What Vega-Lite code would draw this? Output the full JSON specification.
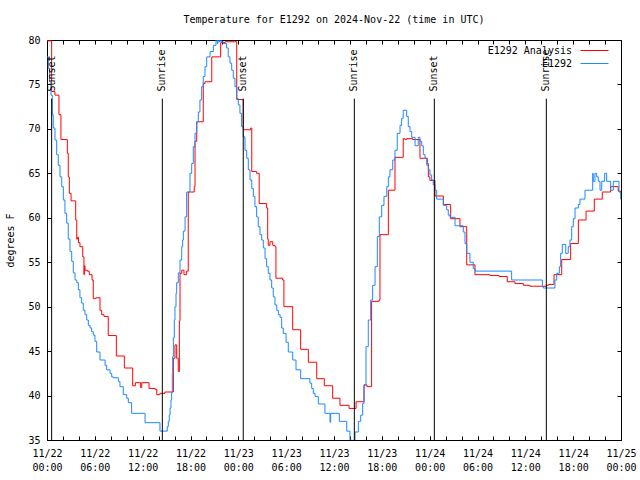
{
  "$schema": "https://vega.github.io/schema/vega-lite/v6.json",
  "width": 574,
  "height": 400,
  "autosize": {"type": "none"},
  "padding": {"left": 47, "top": 40, "right": 19, "bottom": 40},
  "background": "white",
  "title": {"text": "Temperature for E1292 on 2024-Nov-22 (time in UTC)", "font": "DejaVu Sans Mono", "fontSize": 10, "fontWeight": "normal", "color": "black", "offset": 10, "anchor": "middle"},
  "config": {
    "view": {"stroke": "black", "strokeWidth": 1},
    "font": "DejaVu Sans Mono",
    "axis": {"domain": false, "grid": false, "tickColor": "black", "tickSize": -4, "labelColor": "black", "labelFont": "DejaVu Sans Mono", "labelFontSize": 10, "titleFont": "DejaVu Sans Mono", "titleFontSize": 10, "titleFontWeight": "normal", "titleColor": "black"}
  },
  "datasets": {
    "obs": [
      {"t": "2024-11-22T00:00:00Z", "v": 78.1}, {"t": "2024-11-22T00:10:00Z", "v": 76.8}, {"t": "2024-11-22T00:20:00Z", "v": 75.3}, {"t": "2024-11-22T00:30:00Z", "v": 73.8}, {"t": "2024-11-22T00:40:00Z", "v": 71.6}, {"t": "2024-11-22T00:47:00Z", "v": 70.1}, {"t": "2024-11-22T01:00:00Z", "v": 68.75}, {"t": "2024-11-22T01:13:00Z", "v": 67.1}, {"t": "2024-11-22T01:25:00Z", "v": 65.9}, {"t": "2024-11-22T01:38:00Z", "v": 64.6}, {"t": "2024-11-22T01:51:00Z", "v": 63.5}, {"t": "2024-11-22T02:03:00Z", "v": 62.0}, {"t": "2024-11-22T02:15:00Z", "v": 60.5}, {"t": "2024-11-22T02:28:00Z", "v": 59.4}, {"t": "2024-11-22T02:40:00Z", "v": 57.6}, {"t": "2024-11-22T02:53:00Z", "v": 56.2}, {"t": "2024-11-22T03:06:00Z", "v": 55.1}, {"t": "2024-11-22T03:18:00Z", "v": 53.8}, {"t": "2024-11-22T03:31:00Z", "v": 53.0}, {"t": "2024-11-22T03:44:00Z", "v": 52.7}, {"t": "2024-11-22T03:56:00Z", "v": 51.9}, {"t": "2024-11-22T04:08:00Z", "v": 51.0}, {"t": "2024-11-22T04:21:00Z", "v": 50.4}, {"t": "2024-11-22T04:33:00Z", "v": 49.6}, {"t": "2024-11-22T04:46:00Z", "v": 49.1}, {"t": "2024-11-22T04:59:00Z", "v": 48.5}, {"t": "2024-11-22T05:11:00Z", "v": 47.9}, {"t": "2024-11-22T05:24:00Z", "v": 47.6}, {"t": "2024-11-22T05:36:00Z", "v": 47.2}, {"t": "2024-11-22T05:48:00Z", "v": 46.8}, {"t": "2024-11-22T06:01:00Z", "v": 46.1}, {"t": "2024-11-22T06:14:00Z", "v": 44.9}, {"t": "2024-11-22T06:39:00Z", "v": 44.0}, {"t": "2024-11-22T07:17:00Z", "v": 43.4}, {"t": "2024-11-22T07:29:00Z", "v": 42.9}, {"t": "2024-11-22T07:54:00Z", "v": 42.5}, {"t": "2024-11-22T08:07:00Z", "v": 42.1}, {"t": "2024-11-22T08:19:00Z", "v": 42.0}, {"t": "2024-11-22T08:57:00Z", "v": 41.6}, {"t": "2024-11-22T09:09:00Z", "v": 41.0}, {"t": "2024-11-22T09:34:00Z", "v": 40.1}, {"t": "2024-11-22T10:00:00Z", "v": 39.7}, {"t": "2024-11-22T10:12:00Z", "v": 39.2}, {"t": "2024-11-22T10:37:00Z", "v": 38.0}, {"t": "2024-11-22T12:18:00Z", "v": 36.95}, {"t": "2024-11-22T14:10:00Z", "v": 36.0}, {"t": "2024-11-22T15:05:00Z", "v": 36.5}, {"t": "2024-11-22T15:13:00Z", "v": 37.1}, {"t": "2024-11-22T15:20:00Z", "v": 37.8}, {"t": "2024-11-22T15:26:00Z", "v": 38.6}, {"t": "2024-11-22T15:33:00Z", "v": 39.5}, {"t": "2024-11-22T15:38:00Z", "v": 40.4}, {"t": "2024-11-22T15:43:00Z", "v": 42.5}, {"t": "2024-11-22T15:46:00Z", "v": 44.4}, {"t": "2024-11-22T15:51:00Z", "v": 46.5}, {"t": "2024-11-22T15:58:00Z", "v": 48.5}, {"t": "2024-11-22T16:03:00Z", "v": 50.0}, {"t": "2024-11-22T16:11:00Z", "v": 51.5}, {"t": "2024-11-22T16:16:00Z", "v": 52.7}, {"t": "2024-11-22T16:28:00Z", "v": 53.8}, {"t": "2024-11-22T16:41:00Z", "v": 55.25}, {"t": "2024-11-22T16:54:00Z", "v": 56.75}, {"t": "2024-11-22T17:01:00Z", "v": 57.5}, {"t": "2024-11-22T17:06:00Z", "v": 58.5}, {"t": "2024-11-22T17:19:00Z", "v": 60.1}, {"t": "2024-11-22T17:31:00Z", "v": 62.9}, {"t": "2024-11-22T17:56:00Z", "v": 65.0}, {"t": "2024-11-22T18:09:00Z", "v": 66.1}, {"t": "2024-11-22T18:21:00Z", "v": 68.0}, {"t": "2024-11-22T18:34:00Z", "v": 69.5}, {"t": "2024-11-22T18:47:00Z", "v": 70.8}, {"t": "2024-11-22T18:59:00Z", "v": 71.9}, {"t": "2024-11-22T19:11:00Z", "v": 73.25}, {"t": "2024-11-22T19:24:00Z", "v": 74.75}, {"t": "2024-11-22T19:36:00Z", "v": 75.9}, {"t": "2024-11-22T19:49:00Z", "v": 77.0}, {"t": "2024-11-22T20:02:00Z", "v": 78.1}, {"t": "2024-11-22T20:27:00Z", "v": 78.7}, {"t": "2024-11-22T20:52:00Z", "v": 79.4}, {"t": "2024-11-22T21:12:00Z", "v": 80.4}, {"t": "2024-11-22T21:22:00Z", "v": 79.6}, {"t": "2024-11-22T21:27:00Z", "v": 80.4}, {"t": "2024-11-22T21:34:00Z", "v": 79.8}, {"t": "2024-11-22T21:42:00Z", "v": 80.2}, {"t": "2024-11-22T21:50:00Z", "v": 79.8}, {"t": "2024-11-22T22:07:00Z", "v": 79.6}, {"t": "2024-11-22T22:32:00Z", "v": 79.1}, {"t": "2024-11-22T22:44:00Z", "v": 78.1}, {"t": "2024-11-22T22:57:00Z", "v": 77.4}, {"t": "2024-11-22T23:10:00Z", "v": 76.6}, {"t": "2024-11-22T23:22:00Z", "v": 75.7}, {"t": "2024-11-22T23:35:00Z", "v": 74.75}, {"t": "2024-11-22T23:48:00Z", "v": 73.4},
      {"t": "2024-11-23T00:00:00Z", "v": 72.7}, {"t": "2024-11-23T00:12:00Z", "v": 71.75}, {"t": "2024-11-23T00:25:00Z", "v": 70.25}, {"t": "2024-11-23T00:37:00Z", "v": 69.1}, {"t": "2024-11-23T00:50:00Z", "v": 67.6}, {"t": "2024-11-23T01:03:00Z", "v": 66.7}, {"t": "2024-11-23T01:15:00Z", "v": 65.4}, {"t": "2024-11-23T01:28:00Z", "v": 64.25}, {"t": "2024-11-23T01:41:00Z", "v": 63.3}, {"t": "2024-11-23T01:53:00Z", "v": 62.4}, {"t": "2024-11-23T02:05:00Z", "v": 61.25}, {"t": "2024-11-23T02:18:00Z", "v": 60.1}, {"t": "2024-11-23T02:30:00Z", "v": 59.0}, {"t": "2024-11-23T02:43:00Z", "v": 58.1}, {"t": "2024-11-23T02:56:00Z", "v": 57.5}, {"t": "2024-11-23T03:08:00Z", "v": 56.6}, {"t": "2024-11-23T03:21:00Z", "v": 55.4}, {"t": "2024-11-23T03:33:00Z", "v": 54.5}, {"t": "2024-11-23T03:45:00Z", "v": 53.75}, {"t": "2024-11-23T03:58:00Z", "v": 53.0}, {"t": "2024-11-23T04:11:00Z", "v": 52.1}, {"t": "2024-11-23T04:23:00Z", "v": 51.1}, {"t": "2024-11-23T04:36:00Z", "v": 50.2}, {"t": "2024-11-23T04:49:00Z", "v": 49.6}, {"t": "2024-11-23T05:01:00Z", "v": 49.1}, {"t": "2024-11-23T05:14:00Z", "v": 48.8}, {"t": "2024-11-23T05:26:00Z", "v": 47.6}, {"t": "2024-11-23T05:38:00Z", "v": 47.0}, {"t": "2024-11-23T05:59:00Z", "v": 46.0}, {"t": "2024-11-23T06:16:00Z", "v": 44.9}, {"t": "2024-11-23T06:49:00Z", "v": 44.0}, {"t": "2024-11-23T07:14:00Z", "v": 42.9}, {"t": "2024-11-23T07:49:00Z", "v": 41.9}, {"t": "2024-11-23T08:59:00Z", "v": 41.4}, {"t": "2024-11-23T09:12:00Z", "v": 40.8}, {"t": "2024-11-23T09:24:00Z", "v": 40.25}, {"t": "2024-11-23T09:37:00Z", "v": 39.9}, {"t": "2024-11-23T10:02:00Z", "v": 39.05}, {"t": "2024-11-23T10:52:00Z", "v": 38.0}, {"t": "2024-11-23T11:30:00Z", "v": 37.0}, {"t": "2024-11-23T11:35:00Z", "v": 38.0}, {"t": "2024-11-23T12:40:00Z", "v": 37.1}, {"t": "2024-11-23T13:36:00Z", "v": 36.0}, {"t": "2024-11-23T14:00:00Z", "v": 35.0}, {"t": "2024-11-23T14:13:00Z", "v": 34.5}, {"t": "2024-11-23T14:27:00Z", "v": 35.0}, {"t": "2024-11-23T14:38:00Z", "v": 35.9}, {"t": "2024-11-23T15:03:00Z", "v": 37.1}, {"t": "2024-11-23T15:21:00Z", "v": 37.8}, {"t": "2024-11-23T15:36:00Z", "v": 39.1}, {"t": "2024-11-23T15:46:00Z", "v": 41.2}, {"t": "2024-11-23T16:01:00Z", "v": 45.5}, {"t": "2024-11-23T16:18:00Z", "v": 48.5}, {"t": "2024-11-23T16:36:00Z", "v": 50.75}, {"t": "2024-11-23T16:51:00Z", "v": 52.4}, {"t": "2024-11-23T17:09:00Z", "v": 54.5}, {"t": "2024-11-23T17:26:00Z", "v": 57.9}, {"t": "2024-11-23T17:41:00Z", "v": 60.1}, {"t": "2024-11-23T17:59:00Z", "v": 61.4}, {"t": "2024-11-23T18:16:00Z", "v": 62.4}, {"t": "2024-11-23T18:37:00Z", "v": 63.5}, {"t": "2024-11-23T18:49:00Z", "v": 64.6}, {"t": "2024-11-23T19:01:00Z", "v": 65.4}, {"t": "2024-11-23T19:22:00Z", "v": 66.5}, {"t": "2024-11-23T19:39:00Z", "v": 67.6}, {"t": "2024-11-23T19:56:00Z", "v": 69.5}, {"t": "2024-11-23T20:17:00Z", "v": 70.4}, {"t": "2024-11-23T20:29:00Z", "v": 71.2}, {"t": "2024-11-23T20:41:00Z", "v": 72.1}, {"t": "2024-11-23T21:07:00Z", "v": 71.4}, {"t": "2024-11-23T21:19:00Z", "v": 70.25}, {"t": "2024-11-23T21:32:00Z", "v": 69.7}, {"t": "2024-11-23T21:45:00Z", "v": 69.05}, {"t": "2024-11-23T22:10:00Z", "v": 68.1}, {"t": "2024-11-23T22:34:00Z", "v": 69.05}, {"t": "2024-11-23T22:47:00Z", "v": 68.6}, {"t": "2024-11-23T23:00:00Z", "v": 68.1}, {"t": "2024-11-23T23:12:00Z", "v": 67.1}, {"t": "2024-11-23T23:25:00Z", "v": 66.7}, {"t": "2024-11-23T23:38:00Z", "v": 65.9}, {"t": "2024-11-23T23:50:00Z", "v": 65.4},
      {"t": "2024-11-24T00:02:00Z", "v": 64.8}, {"t": "2024-11-24T00:15:00Z", "v": 64.25}, {"t": "2024-11-24T00:27:00Z", "v": 63.7}, {"t": "2024-11-24T00:40:00Z", "v": 63.1}, {"t": "2024-11-24T00:53:00Z", "v": 62.1}, {"t": "2024-11-24T01:43:00Z", "v": 61.4}, {"t": "2024-11-24T02:08:00Z", "v": 60.9}, {"t": "2024-11-24T02:20:00Z", "v": 60.3}, {"t": "2024-11-24T02:33:00Z", "v": 60.05}, {"t": "2024-11-24T03:11:00Z", "v": 59.1}, {"t": "2024-11-24T04:13:00Z", "v": 58.4}, {"t": "2024-11-24T04:26:00Z", "v": 57.1}, {"t": "2024-11-24T04:39:00Z", "v": 56.0}, {"t": "2024-11-24T05:03:00Z", "v": 55.0}, {"t": "2024-11-24T05:28:00Z", "v": 54.3}, {"t": "2024-11-24T05:41:00Z", "v": 54.0}, {"t": "2024-11-24T10:17:00Z", "v": 53.0}, {"t": "2024-11-24T14:08:00Z", "v": 52.25}, {"t": "2024-11-24T14:15:00Z", "v": 52.1}, {"t": "2024-11-24T15:43:00Z", "v": 53.0}, {"t": "2024-11-24T15:56:00Z", "v": 53.75}, {"t": "2024-11-24T16:16:00Z", "v": 54.5}, {"t": "2024-11-24T16:26:00Z", "v": 56.0}, {"t": "2024-11-24T16:38:00Z", "v": 57.0}, {"t": "2024-11-24T17:04:00Z", "v": 56.0}, {"t": "2024-11-24T17:23:00Z", "v": 56.75}, {"t": "2024-11-24T17:36:00Z", "v": 57.5}, {"t": "2024-11-24T17:49:00Z", "v": 59.0}, {"t": "2024-11-24T18:01:00Z", "v": 59.9}, {"t": "2024-11-24T18:14:00Z", "v": 61.1}, {"t": "2024-11-24T18:39:00Z", "v": 61.5}, {"t": "2024-11-24T18:51:00Z", "v": 62.1}, {"t": "2024-11-24T19:29:00Z", "v": 63.1}, {"t": "2024-11-24T20:27:00Z", "v": 65.0}, {"t": "2024-11-24T20:31:00Z", "v": 64.1}, {"t": "2024-11-24T20:44:00Z", "v": 65.0}, {"t": "2024-11-24T20:57:00Z", "v": 64.6}, {"t": "2024-11-24T21:09:00Z", "v": 64.1}, {"t": "2024-11-24T21:22:00Z", "v": 63.1}, {"t": "2024-11-24T21:35:00Z", "v": 64.1}, {"t": "2024-11-24T21:57:00Z", "v": 65.0}, {"t": "2024-11-24T22:12:00Z", "v": 64.1}, {"t": "2024-11-24T22:42:00Z", "v": 63.1}, {"t": "2024-11-24T23:02:00Z", "v": 64.1}, {"t": "2024-11-24T23:45:00Z", "v": 62.9}, {"t": "2024-11-24T23:58:00Z", "v": 62.1}, {"t": "2024-11-25T00:00:00Z", "v": 62.1}
    ],
    "analysis": [
      {"t": "2024-11-22T00:00:00Z", "v": 79.9}, {"t": "2024-11-22T00:35:00Z", "v": 74.2}, {"t": "2024-11-22T01:00:00Z", "v": 73.8}, {"t": "2024-11-22T01:30:00Z", "v": 71.6}, {"t": "2024-11-22T01:45:00Z", "v": 68.8}, {"t": "2024-11-22T02:33:00Z", "v": 67.25}, {"t": "2024-11-22T02:40:00Z", "v": 64.6}, {"t": "2024-11-22T02:48:00Z", "v": 62.75}, {"t": "2024-11-22T03:01:00Z", "v": 61.9}, {"t": "2024-11-22T03:36:00Z", "v": 59.75}, {"t": "2024-11-22T03:44:00Z", "v": 57.6}, {"t": "2024-11-22T03:50:00Z", "v": 57.8}, {"t": "2024-11-22T03:57:00Z", "v": 57.2}, {"t": "2024-11-22T04:08:00Z", "v": 56.75}, {"t": "2024-11-22T04:29:00Z", "v": 55.6}, {"t": "2024-11-22T04:38:00Z", "v": 53.6}, {"t": "2024-11-22T04:41:00Z", "v": 54.6}, {"t": "2024-11-22T04:46:00Z", "v": 54.1}, {"t": "2024-11-22T05:03:00Z", "v": 54.0}, {"t": "2024-11-22T05:18:00Z", "v": 53.6}, {"t": "2024-11-22T05:39:00Z", "v": 53.0}, {"t": "2024-11-22T05:48:00Z", "v": 50.9}, {"t": "2024-11-22T06:07:00Z", "v": 51.0}, {"t": "2024-11-22T06:39:00Z", "v": 49.6}, {"t": "2024-11-22T06:52:00Z", "v": 49.1}, {"t": "2024-11-22T07:09:00Z", "v": 48.9}, {"t": "2024-11-22T07:41:00Z", "v": 46.75}, {"t": "2024-11-22T08:42:00Z", "v": 44.45}, {"t": "2024-11-22T09:42:00Z", "v": 43.1}, {"t": "2024-11-22T10:45:00Z", "v": 41.1}, {"t": "2024-11-22T11:05:00Z", "v": 41.45}, {"t": "2024-11-22T11:45:00Z", "v": 40.9}, {"t": "2024-11-22T11:53:00Z", "v": 41.45}, {"t": "2024-11-22T12:48:00Z", "v": 40.8}, {"t": "2024-11-22T13:33:00Z", "v": 40.7}, {"t": "2024-11-22T13:46:00Z", "v": 40.1}, {"t": "2024-11-22T14:10:00Z", "v": 40.25}, {"t": "2024-11-22T14:48:00Z", "v": 40.4}, {"t": "2024-11-22T15:51:00Z", "v": 44.2}, {"t": "2024-11-22T16:03:00Z", "v": 45.7}, {"t": "2024-11-22T16:16:00Z", "v": 44.2}, {"t": "2024-11-22T16:28:00Z", "v": 42.7}, {"t": "2024-11-22T16:36:00Z", "v": 48.4}, {"t": "2024-11-22T16:41:00Z", "v": 53.75}, {"t": "2024-11-22T16:54:00Z", "v": 54.1}, {"t": "2024-11-22T17:11:00Z", "v": 53.6}, {"t": "2024-11-22T17:31:00Z", "v": 54.0}, {"t": "2024-11-22T17:43:00Z", "v": 62.9}, {"t": "2024-11-22T18:28:00Z", "v": 63.5}, {"t": "2024-11-22T18:34:00Z", "v": 68.6}, {"t": "2024-11-22T18:47:00Z", "v": 70.8}, {"t": "2024-11-22T19:36:00Z", "v": 75.1}, {"t": "2024-11-22T19:49:00Z", "v": 75.3}, {"t": "2024-11-22T20:40:00Z", "v": 78.1}, {"t": "2024-11-22T21:47:00Z", "v": 79.7}, {"t": "2024-11-22T22:20:00Z", "v": 79.8}, {"t": "2024-11-22T23:48:00Z", "v": 73.3},
      {"t": "2024-11-23T00:37:00Z", "v": 69.9}, {"t": "2024-11-23T01:33:00Z", "v": 70.1}, {"t": "2024-11-23T01:41:00Z", "v": 65.2}, {"t": "2024-11-23T02:18:00Z", "v": 65.0}, {"t": "2024-11-23T02:37:00Z", "v": 61.6}, {"t": "2024-11-23T03:33:00Z", "v": 61.1}, {"t": "2024-11-23T03:41:00Z", "v": 57.6}, {"t": "2024-11-23T03:45:00Z", "v": 56.9}, {"t": "2024-11-23T03:58:00Z", "v": 57.3}, {"t": "2024-11-23T04:19:00Z", "v": 56.9}, {"t": "2024-11-23T04:36:00Z", "v": 56.75}, {"t": "2024-11-23T04:43:00Z", "v": 53.2}, {"t": "2024-11-23T05:33:00Z", "v": 53.0}, {"t": "2024-11-23T05:43:00Z", "v": 50.0}, {"t": "2024-11-23T06:49:00Z", "v": 47.4}, {"t": "2024-11-23T07:49:00Z", "v": 45.2}, {"t": "2024-11-23T08:47:00Z", "v": 43.75}, {"t": "2024-11-23T09:50:00Z", "v": 41.9}, {"t": "2024-11-23T10:47:00Z", "v": 41.1}, {"t": "2024-11-23T11:50:00Z", "v": 39.7}, {"t": "2024-11-23T12:45:00Z", "v": 38.9}, {"t": "2024-11-23T13:53:00Z", "v": 38.55}, {"t": "2024-11-23T14:46:00Z", "v": 39.3}, {"t": "2024-11-23T15:46:00Z", "v": 41.2}, {"t": "2024-11-23T16:08:00Z", "v": 41.0}, {"t": "2024-11-23T16:43:00Z", "v": 50.6}, {"t": "2024-11-23T17:39:00Z", "v": 50.75}, {"t": "2024-11-23T17:46:00Z", "v": 58.1}, {"t": "2024-11-23T18:49:00Z", "v": 63.1}, {"t": "2024-11-23T19:39:00Z", "v": 66.8}, {"t": "2024-11-23T20:41:00Z", "v": 68.9}, {"t": "2024-11-23T20:54:00Z", "v": 68.8}, {"t": "2024-11-23T21:07:00Z", "v": 68.9}, {"t": "2024-11-23T21:52:00Z", "v": 68.8}, {"t": "2024-11-23T22:47:00Z", "v": 66.7}, {"t": "2024-11-23T23:42:00Z", "v": 66.1}, {"t": "2024-11-23T23:50:00Z", "v": 64.6},
      {"t": "2024-11-24T00:02:00Z", "v": 64.2}, {"t": "2024-11-24T00:40:00Z", "v": 62.45}, {"t": "2024-11-24T01:43:00Z", "v": 61.5}, {"t": "2024-11-24T02:38:00Z", "v": 59.9}, {"t": "2024-11-24T03:48:00Z", "v": 59.0}, {"t": "2024-11-24T04:39:00Z", "v": 54.7}, {"t": "2024-11-24T05:41:00Z", "v": 53.6}, {"t": "2024-11-24T07:34:00Z", "v": 53.5}, {"t": "2024-11-24T08:42:00Z", "v": 53.4}, {"t": "2024-11-24T09:44:00Z", "v": 52.8}, {"t": "2024-11-24T10:42:00Z", "v": 52.6}, {"t": "2024-11-24T11:45:00Z", "v": 52.4}, {"t": "2024-11-24T12:35:00Z", "v": 52.3}, {"t": "2024-11-24T14:41:00Z", "v": 52.4}, {"t": "2024-11-24T14:53:00Z", "v": 52.5}, {"t": "2024-11-24T15:36:00Z", "v": 53.6}, {"t": "2024-11-24T16:34:00Z", "v": 55.3}, {"t": "2024-11-24T17:41:00Z", "v": 57.1}, {"t": "2024-11-24T18:39:00Z", "v": 59.75}, {"t": "2024-11-24T19:37:00Z", "v": 60.75}, {"t": "2024-11-24T20:39:00Z", "v": 62.1}, {"t": "2024-11-24T21:39:00Z", "v": 62.9}, {"t": "2024-11-24T22:42:00Z", "v": 63.5}, {"t": "2024-11-24T23:39:00Z", "v": 63.0}, {"t": "2024-11-24T23:58:00Z", "v": 62.75}, {"t": "2024-11-25T00:00:00Z", "v": 62.75}
    ],
    "events": [
      {"t": "2024-11-22T00:35:00Z", "label": "Sunset"},
      {"t": "2024-11-22T14:28:00Z", "label": "Sunrise"},
      {"t": "2024-11-23T00:37:00Z", "label": "Sunset"},
      {"t": "2024-11-23T14:33:00Z", "label": "Sunrise"},
      {"t": "2024-11-24T00:35:00Z", "label": "Sunset"},
      {"t": "2024-11-24T14:38:00Z", "label": "Sunrise"}
    ]
  },
  "resolve": {"axis": {"x": "independent", "y": "independent"}},
  "layer": [
    {
      "data": {"name": "analysis"},
      "mark": {"type": "line", "interpolate": "step-after", "strokeWidth": 1, "clip": true},
      "encoding": {
        "x": {"field": "t", "type": "temporal",
              "scale": {"type": "utc", "domain": [1732233600000, 1732492800000]},
              "axis": {"orient": "bottom", "title": null, "values": [1732233600000, 1732255200000, 1732276800000, 1732298400000, 1732320000000, 1732341600000, 1732363200000, 1732384800000, 1732406400000, 1732428000000, 1732449600000, 1732471200000, 1732492800000], "labelExpr": "[utcFormat(datum.value, '%m/%d'), utcFormat(datum.value, '%H:%M')]", "labelOverlap": false, "labelFlush": false, "labelBound": false, "labelPadding": 12, "labelLineHeight": 14}},
        "y": {"field": "v", "type": "quantitative",
              "scale": {"domain": [35, 80], "nice": false, "zero": false},
              "axis": {"orient": "left", "title": "degrees F", "values": [35, 40, 45, 50, 55, 60, 65, 70, 75, 80], "format": "d", "labelPadding": 11, "titlePadding": 12}},
        "color": {"datum": "E1292 Analysis", "type": "nominal",
                  "scale": {"domain": ["E1292 Analysis", "E1292"], "range": ["#ff0000", "#1e88ff"]},
                  "legend": {"orient": "none", "legendX": 540, "legendY": 3, "title": null, "symbolType": "M-2,0H2", "symbolSize": 196, "symbolStrokeWidth": 1, "symbolFillColor": "transparent", "labelAlign": "right", "labelOffset": -30, "labelFont": "DejaVu Sans Mono", "labelFontSize": 10, "labelColor": "black", "padding": 0, "rowPadding": 0}}
      }
    },
    {
      "data": {"name": "obs"},
      "mark": {"type": "line", "interpolate": "step-after", "strokeWidth": 1, "clip": true},
      "encoding": {
        "x": {"field": "t", "type": "temporal", "axis": {"orient": "bottom", "title": null, "labels": false, "values": [1732233600000, 1732240800000, 1732248000000, 1732255200000, 1732262400000, 1732269600000, 1732276800000, 1732284000000, 1732291200000, 1732298400000, 1732305600000, 1732312800000, 1732320000000, 1732327200000, 1732334400000, 1732341600000, 1732348800000, 1732356000000, 1732363200000, 1732370400000, 1732377600000, 1732384800000, 1732392000000, 1732399200000, 1732406400000, 1732413600000, 1732420800000, 1732428000000, 1732435200000, 1732442400000, 1732449600000, 1732456800000, 1732464000000, 1732471200000, 1732478400000, 1732485600000, 1732492800000]}},
        "y": {"field": "v", "type": "quantitative", "axis": {"orient": "right", "title": null, "labels": false, "values": [35, 40, 45, 50, 55, 60, 65, 70, 75, 80]}},
        "color": {"datum": "E1292", "type": "nominal"}
      }
    },
    {
      "data": {"name": "events"},
      "mark": {"type": "rule", "color": "black", "strokeWidth": 1},
      "encoding": {
        "x": {"field": "t", "type": "temporal", "axis": {"orient": "top", "title": null, "labels": false, "values": [1732233600000, 1732240800000, 1732248000000, 1732255200000, 1732262400000, 1732269600000, 1732276800000, 1732284000000, 1732291200000, 1732298400000, 1732305600000, 1732312800000, 1732320000000, 1732327200000, 1732334400000, 1732341600000, 1732348800000, 1732356000000, 1732363200000, 1732370400000, 1732377600000, 1732384800000, 1732392000000, 1732399200000, 1732406400000, 1732413600000, 1732420800000, 1732428000000, 1732435200000, 1732442400000, 1732449600000, 1732456800000, 1732464000000, 1732471200000, 1732478400000, 1732485600000, 1732492800000]}},
        "y": {"datum": 73.4, "type": "quantitative", "axis": null},
        "y2": {"datum": 35}
      }
    },
    {
      "data": {"name": "events"},
      "mark": {"type": "text", "angle": 270, "align": "left", "baseline": "middle", "font": "DejaVu Sans Mono", "fontSize": 10, "color": "black"},
      "encoding": {
        "x": {"field": "t", "type": "temporal", "axis": null},
        "y": {"datum": 74.2, "type": "quantitative", "axis": null},
        "text": {"field": "label"}
      }
    }
  ]
}
